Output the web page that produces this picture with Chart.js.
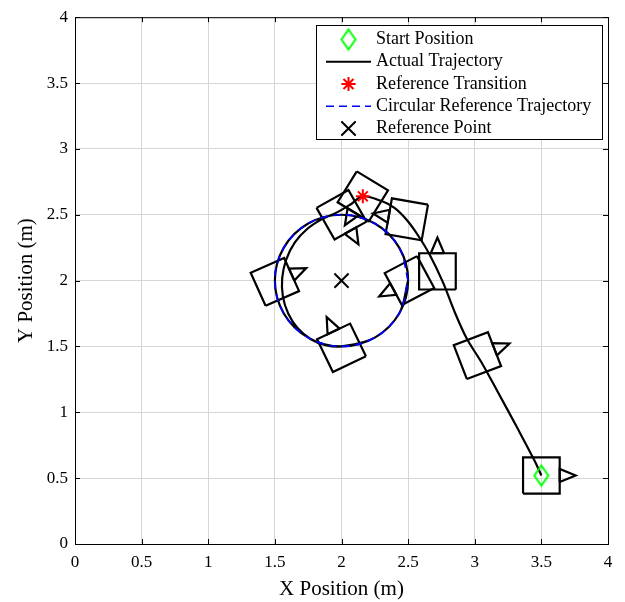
<!DOCTYPE html>
<html>
<head>
<meta charset="utf-8">
<script src="https://cdn.jsdelivr.net/npm/chart.js@4.4.1/dist/chart.umd.min.js"></script>
<style>
  html, body { margin: 0; padding: 0; background: #fff; }
</style>
</head>
<body>
<canvas id="chart" width="625" height="602"></canvas>
<script>
// Actual robot path: start -> reference transition -> first lap (a bit inside
// on the left) -> second lap sitting on the reference circle.
const trajX = [3.50, 3.45, 3.32, 3.17, 3.05, 2.94, 2.85, 2.76, 2.66, 2.57, 2.49, 2.40, 2.31, 2.16,
  2.07, 1.97, 1.85, 1.74, 1.65, 1.585, 1.555, 1.56, 1.60, 1.67, 1.77, 1.88, 2.00,
  2.25, 2.433, 2.50, 2.433, 2.25, 2.00, 1.75, 1.567, 1.50, 1.567, 1.75, 2.00, 2.25, 2.433, 2.50];
const trajY = [0.52, 0.63, 0.88, 1.16, 1.38, 1.56, 1.76, 1.99, 2.20, 2.35, 2.46, 2.55, 2.60, 2.64,
  2.58, 2.52, 2.465, 2.39, 2.29, 2.16, 2.02, 1.88, 1.75, 1.64, 1.555, 1.51, 1.50,
  1.567, 1.75, 2.00, 2.25, 2.433, 2.50, 2.433, 2.25, 2.00, 1.75, 1.567, 1.50, 1.567, 1.75, 2.00];

// Circular reference trajectory, centre (2, 2), radius 0.5, one point every 30 deg.
const circleX = [2.5, 2.433, 2.25, 2.0, 1.75, 1.567, 1.5, 1.567, 1.75, 2.0, 2.25, 2.433, 2.5];
const circleY = [2.0, 2.25, 2.433, 2.5, 2.433, 2.25, 2.0, 1.75, 1.567, 1.5, 1.567, 1.75, 2.0];

// Robot snapshots: centre (m) and heading (deg).
const poseX = [3.50, 3.02, 2.72, 2.49, 2.16, 2.00, 1.50, 2.00, 2.51];
const poseY = [0.52, 1.43, 2.07, 2.465, 2.64, 2.50, 1.99, 1.49, 2.00];
const poseHeading = [0, 21, 90, 170, 238.5, -60.5, 24, 115.6, 208];

const startPos = [3.5, 0.52];
const transitionPos = [2.16, 2.64];
const refPoint = [2, 2];

const tickValues = [0, 0.5, 1, 1.5, 2, 2.5, 3, 3.5, 4];
const tickLabels = ["0", "0.5", "1", "1.5", "2", "2.5", "3", "3.5", "4"];
const legendLabels = ["Start Position", "Actual Trajectory", "Reference Transition",
  "Circular Reference Trajectory", "Reference Point"];

const serif = "'Liberation Serif', 'Times New Roman', serif";
const BODY = 0.275;      // square side
const TRI_HALF = 0.05;   // half width of heading triangle base
const TRI_LEN = 0.12;    // triangle tip beyond the square edge
const DASH = [8, 5];
const LW = 2.2;          // black line width

function toPoints(xs, ys) {
  return xs.map((x, i) => ({ x: x, y: ys[i] }));
}

// rotate a body-frame offset into the plot frame
function bodyPoint(i, u, v) {
  const t = poseHeading[i] * Math.PI / 180;
  return {
    x: poseX[i] + u * Math.cos(t) - v * Math.sin(t),
    y: poseY[i] + u * Math.sin(t) + v * Math.cos(t),
  };
}

// start marker: tall outlined diamond, like MATLAB's 'd'
function diamondImage() {
  const c = document.createElement("canvas");
  c.width = 20;
  c.height = 26;
  const g = c.getContext("2d");
  g.strokeStyle = "#00ff00";
  g.lineWidth = 2;
  g.beginPath();
  g.moveTo(10, 3);
  g.lineTo(17, 13);
  g.lineTo(10, 23);
  g.lineTo(3, 13);
  g.closePath();
  g.stroke();
  return c;
}
const diamond = diamondImage();

const lineBase = { showLine: true, pointRadius: 0, pointHoverRadius: 0, fill: false };

const robotSets = [];
for (let i = 0; i < poseX.length; i++) {
  const h = BODY / 2;
  robotSets.push({
    ...lineBase,
    data: [bodyPoint(i, -h, -h), bodyPoint(i, h, -h), bodyPoint(i, h, h), bodyPoint(i, -h, h), bodyPoint(i, -h, -h)],
    borderColor: "#000",
    borderWidth: LW,
  });
  robotSets.push({
    ...lineBase,
    data: [bodyPoint(i, h, -TRI_HALF), bodyPoint(i, h + TRI_LEN, 0), bodyPoint(i, h, TRI_HALF), bodyPoint(i, h, -TRI_HALF)],
    borderColor: "#000",
    borderWidth: LW,
  });
}

// first dataset is drawn last (on top)
const datasets = [
  {
    data: [{ x: refPoint[0], y: refPoint[1] }],
    pointStyle: "crossRot", pointRadius: 10, borderColor: "#000", borderWidth: 2,
  },
  {
    ...lineBase,
    data: toPoints(circleX, circleY),
    borderColor: "#0000ff", borderWidth: 1.7, borderDash: DASH, tension: 0.35,
  },
  {
    data: [{ x: transitionPos[0], y: transitionPos[1] }],
    pointStyle: "star", pointRadius: 7, borderColor: "#ff0000", borderWidth: 2,
  },
  {
    data: [{ x: startPos[0], y: startPos[1] }],
    pointStyle: diamond, pointRadius: 10,
  },
  {
    ...lineBase,
    data: toPoints(trajX, trajY),
    borderColor: "#000", borderWidth: LW, tension: 0.35,
  },
  ...robotSets,
];

// MATLAB-like box with inward ticks on all four sides
const axesBox = {
  id: "axesBox",
  afterDatasetsDraw(chart) {
    const { ctx, chartArea: a, scales } = chart;
    ctx.save();
    ctx.strokeStyle = "#000";
    ctx.lineWidth = 1;
    ctx.strokeRect(a.left + 0.5, a.top + 0.5, a.right - a.left, a.bottom - a.top);
    ctx.beginPath();
    tickValues.forEach((v) => {
      const px = Math.round(scales.x.getPixelForValue(v)) + 0.5;
      ctx.moveTo(px, a.bottom);
      ctx.lineTo(px, a.bottom - 5);
      ctx.moveTo(px, a.top);
      ctx.lineTo(px, a.top + 5);
      const py = Math.round(scales.y.getPixelForValue(v)) + 0.5;
      ctx.moveTo(a.left, py);
      ctx.lineTo(a.left + 5, py);
      ctx.moveTo(a.right, py);
      ctx.lineTo(a.right - 5, py);
    });
    ctx.stroke();
    ctx.restore();
  },
};

// legend box in the upper right of the axes
const boxLegend = {
  id: "boxLegend",
  afterDraw(chart) {
    const ctx = chart.ctx;
    const L = 316, T = 25, R = 602, B = 139;
    const symL = 326, symR = 371, symC = 348.5, textX = 376;
    ctx.save();
    ctx.fillStyle = "#fff";
    ctx.fillRect(L, T, R - L, B - T);
    ctx.strokeStyle = "#000";
    ctx.lineWidth = 1;
    ctx.strokeRect(L + 0.5, T + 0.5, R - L, B - T);
    legendLabels.forEach((label, i) => {
      const y = T + 14.5 + i * 22.25;
      ctx.save();
      if (i === 0) {
        ctx.drawImage(diamond, symC - diamond.width / 2, y - diamond.height / 2);
      } else if (i === 1 || i === 3) {
        ctx.strokeStyle = i === 1 ? "#000" : "#0000ff";
        ctx.lineWidth = i === 1 ? LW : 1.7;
        if (i === 3) ctx.setLineDash(DASH);
        ctx.beginPath();
        ctx.moveTo(symL, y);
        ctx.lineTo(symR, y);
        ctx.stroke();
      } else {
        Chart.helpers.drawPoint(ctx, {
          pointStyle: i === 2 ? "star" : "crossRot",
          radius: i === 2 ? 7 : 10,
          borderWidth: 2,
        }, symC, y);
        ctx.strokeStyle = i === 2 ? "#ff0000" : "#000";
        ctx.lineWidth = 2;
        ctx.stroke();
      }
      ctx.restore();
      ctx.fillStyle = "#000";
      ctx.font = "18px " + serif;
      ctx.textBaseline = "middle";
      ctx.textAlign = "left";
      ctx.fillText(label, textX, y);
    });
    ctx.restore();
  },
};

function axis(titleText, fitSide, fitSize, titlePad, tickPad) {
  return {
    type: "linear",
    min: 0,
    max: 4,
    ticks: {
      stepSize: 0.5,
      color: "#000",
      padding: tickPad,
      font: { family: serif, size: 17 },
      callback: (v) => {
        const k = tickValues.indexOf(v);
        return k >= 0 ? tickLabels[k] : "";
      },
    },
    grid: { color: "#d6d6d6", lineWidth: 1, drawTicks: false },
    border: { display: false },
    title: {
      display: true,
      text: titleText,
      color: "#000",
      font: { family: serif, size: 21 },
      padding: titlePad,
    },
    afterFit: (s) => { s[fitSide] = fitSize; },
  };
}

new Chart(document.getElementById("chart").getContext("2d"), {
  type: "scatter",
  data: { datasets: datasets },
  options: {
    responsive: false,
    animation: false,
    devicePixelRatio: 1,
    layout: { padding: { top: 12, right: 17, bottom: 0, left: 0 } },
    plugins: {
      legend: { display: false },
      tooltip: { enabled: false },
    },
    scales: {
      x: axis("X Position (m)", "height", 58, { top: 0, bottom: 0 }, 8),
      y: axis("Y Position (m)", "width", 75, { top: 14, bottom: 0 }, 7),
    },
  },
  plugins: [axesBox, boxLegend],
});
</script>
</body>
</html>
